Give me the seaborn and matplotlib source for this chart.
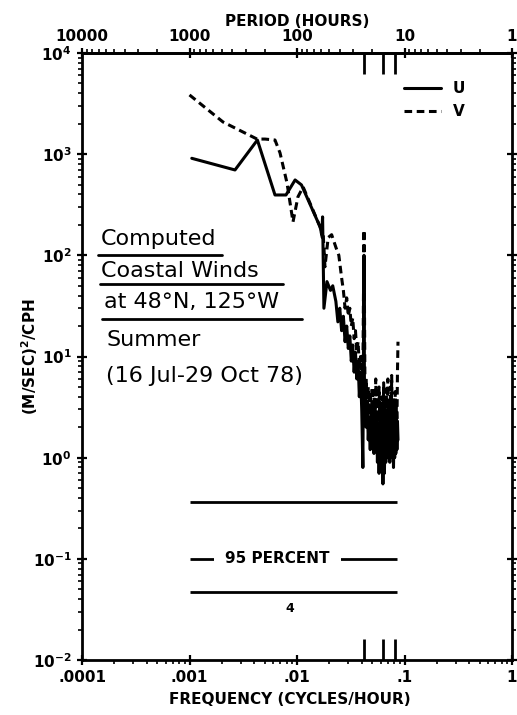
import matplotlib
matplotlib.use("Agg")
import matplotlib.pyplot as plt
import seaborn as sns
import numpy as np
import pandas as pd
from matplotlib.lines import Line2D
from matplotlib.ticker import NullLocator, NullFormatter

# spectra (frequency in cycles/hour, PSD in (m/s)^2/cph)
u_freq = [0.00105, 0.00265, 0.00428, 0.00624, 0.0079, 0.0096, 0.0110, 0.0164, 0.0170, 0.0173,
          0.0178, 0.019, 0.0205, 0.0215, 0.023, 0.024, 0.025, 0.026, 0.027, 0.028,
          0.029, 0.030, 0.031, 0.032, 0.033, 0.034, 0.035, 0.036, 0.037, 0.038,
          0.039, 0.040, 0.041, 0.042, 0.0425, 0.043, 0.044, 0.045, 0.046, 0.047,
          0.048, 0.049, 0.050, 0.051, 0.052, 0.053, 0.054, 0.055, 0.056, 0.057,
          0.058, 0.059, 0.060, 0.061, 0.062, 0.063, 0.064, 0.065, 0.066, 0.067,
          0.068, 0.069, 0.070, 0.071, 0.072, 0.073, 0.074, 0.075, 0.076, 0.077,
          0.078, 0.079, 0.080, 0.081, 0.082, 0.083, 0.084, 0.085, 0.086, 0.087]
u_psd = [910, 698, 1380, 395, 395, 556, 497, 191, 160, 240,
         30, 55, 45, 50, 35, 22, 30, 18, 25, 14,
         20, 12, 16, 9, 13, 7, 11, 6, 9, 4,
         7, 3, 0.8, 100, 2.5, 3, 2, 3.5, 1.5, 2.5,
         1.2, 3, 1.5, 2.8, 1.1, 3.5, 1.3, 2.5, 0.9, 2.2,
         0.7, 1.8, 1.0, 1.6, 2.5, 0.55, 2, 0.7, 1.8, 0.9,
         2.6, 1.0, 3, 1.2, 2.4, 0.9, 2.8, 1.1, 3.2, 1.0,
         2.5, 0.8, 2.1, 1.0, 3.0, 1.1, 2.7, 1.2, 2.3, 1.5]

v_freq = [0.001, 0.00205, 0.00425, 0.00504, 0.00624, 0.00695, 0.00807, 0.00918, 0.0102, 0.0114,
          0.0164, 0.0172, 0.0175, 0.0182, 0.0195, 0.021, 0.023, 0.0245, 0.026, 0.027,
          0.028, 0.029, 0.030, 0.031, 0.032, 0.033, 0.034, 0.035, 0.036, 0.037,
          0.038, 0.039, 0.040, 0.041, 0.042, 0.043, 0.044, 0.045, 0.046, 0.047,
          0.048, 0.049, 0.050, 0.051, 0.052, 0.053, 0.054, 0.055, 0.056, 0.057,
          0.058, 0.059, 0.060, 0.061, 0.062, 0.063, 0.064, 0.065, 0.066, 0.067,
          0.068, 0.069, 0.070, 0.071, 0.072, 0.073, 0.074, 0.075, 0.076, 0.077,
          0.078, 0.079, 0.080, 0.081, 0.082, 0.083, 0.084, 0.085, 0.086, 0.087]
v_psd = [3850, 2080, 1410, 1410, 1380, 1030, 520, 214, 378, 474,
         191, 150, 166, 77, 150, 160, 120, 100, 60, 45,
         30, 38, 25, 30, 20, 24, 15, 18, 11, 14,
         8, 10, 5, 7, 178, 3, 6, 2.5, 5, 2,
         4.5, 1.8, 5, 2.2, 4, 1.5, 6, 2, 4.5, 1.3,
         5, 1.6, 3.5, 1.1, 4, 1.4, 5.5, 1.8, 4, 1.2,
         4.8, 1.5, 6, 2, 3.8, 1.3, 5, 1.7, 6.5, 2,
         4, 1.4, 3.5, 1.2, 4.5, 1.6, 3.2, 2, 7, 14]

# 95 percent confidence bars
conf_levels = [0.368, 0.1, 0.0465]
conf_fmin, conf_fmax = 0.001, 0.0857
conf_label_freq = 0.0066
dof_freq, dof_level = 0.0086, 0.032
# diurnal, inertial, semidiurnal markers
tide_freqs = [0.042, 0.063, 0.082]

freq_ticks = [1e-4, 1e-3, 1e-2, 1e-1, 1]
freq_labels = ['.0001', '.001', '.01', '.1', '1']
period_ticks = [1e4, 1e3, 100, 10, 1]
period_labels = ['10000', '1000', '100', '10', '1']
psd_ticks = [1e-2, 1e-1, 1, 10, 100, 1e3, 1e4]
psd_labels = [r'$\mathbf{10^{-2}}$', r'$\mathbf{10^{-1}}$', r'$\mathbf{10^{0}}$', r'$\mathbf{10^{1}}$',
              r'$\mathbf{10^{2}}$', r'$\mathbf{10^{3}}$', r'$\mathbf{10^{4}}$']

df = pd.concat([
    pd.DataFrame({'freq': u_freq, 'psd': u_psd, 'comp': 'U'}),
    pd.DataFrame({'freq': v_freq, 'psd': v_psd, 'comp': 'V'}),
])

sns.set_style("ticks")
plt.rcParams['font.family'] = ['DejaVu Sans']
plt.rcParams['font.weight'] = 'bold'
for key in ('text.color', 'axes.labelcolor', 'xtick.color', 'ytick.color', 'axes.edgecolor'):
    plt.rcParams[key] = 'black'

W, H = 517, 715
fig = plt.figure(figsize=(W / 100, H / 100), dpi=100)
ax = fig.add_axes([82 / W, 1 - 660 / H, 430 / W, 607 / H])

sns.lineplot(data=df, x='freq', y='psd', style='comp', style_order=['U', 'V'],
             dashes={'U': '', 'V': (2.5, 1.5)}, color='black', linewidth=2.2,
             estimator=None, sort=False, ax=ax)

ax.set_xscale('log')
ax.set_yscale('log')
ax.set_xlim(1e-4, 1)
ax.set_ylim(1e-2, 1e4)

ax.set_xticks(freq_ticks, labels=freq_labels)
ax.set_yticks(psd_ticks, labels=psd_labels)
ax.xaxis.set_minor_formatter(NullFormatter())
ax.yaxis.set_minor_formatter(NullFormatter())
ax.tick_params(which='major', direction='inout', length=7, width=1.6, labelsize=11,
               right=True, pad=4)
ax.tick_params(which='minor', direction='out', length=3, width=1.2, right=True)
for s in ax.spines.values():
    s.set_linewidth(2)
    s.set_visible(True)

# confidence bars
ax.hlines(conf_levels, conf_fmin, conf_fmax, color='black', linewidth=2)
ax.text(conf_label_freq, conf_levels[1], '95 PERCENT', ha='center', va='center',
        fontsize=11, fontweight='bold', bbox=dict(facecolor='white', edgecolor='none', pad=8))
ax.text(dof_freq, dof_level, '4', ha='center', va='center', fontsize=9, fontweight='bold')

ax.set_xlabel('FREQUENCY (CYCLES/HOUR)', fontsize=11, fontweight='bold')
ax.xaxis.set_label_coords(0.484, -0.052)
ax.set_ylabel('(M/SEC)$^\\mathbf{2}$/CPH', fontsize=11, fontweight='bold')
ax.yaxis.set_label_coords(-0.098, 0.5)


def to_period(x):
    x = np.asarray(x, dtype=float)
    with np.errstate(divide='ignore'):
        return 1.0 / x


def ident(x):
    return x


top = ax.secondary_xaxis('top', functions=(to_period, to_period))
top.set_xticks(period_ticks, labels=period_labels)
top.xaxis.set_minor_formatter(NullFormatter())
top.tick_params(which='major', direction='inout', length=7, width=1.6, labelsize=11, pad=3)
top.tick_params(which='minor', direction='out', length=3, width=1.2)
top.spines['top'].set_linewidth(2)
top.set_xlabel('PERIOD (HOURS)', fontsize=11, fontweight='bold', labelpad=2)

for loc in ('bottom', 'top'):
    tide = ax.secondary_xaxis(loc, functions=(ident, ident))
    tide.set_xticks(tide_freqs, labels=['', '', ''])
    tide.xaxis.set_minor_locator(NullLocator())
    tide.tick_params(direction='in', length=15, width=2)
    tide.spines[loc].set_visible(False)

handles, labels = ax.get_legend_handles_labels()
ax.legend(handles, labels, loc='upper left',
          bbox_to_anchor=((404 - 82) / 430, (660 - 81) / 607),
          bbox_transform=ax.transAxes, frameon=False, handlelength=2.4, labelspacing=0.55,
          borderaxespad=0, borderpad=0, prop={'size': 11, 'weight': 'bold'})

# annotation block
lines = [("Computed", 101, 239), ("Coastal Winds", 101, 271), ("at 48°N, 125°W", 104, 302),
         ("Summer", 106, 340), ("(16 Jul-29 Oct 78)", 106, 376)]
for txt, px, py in lines:
    fig.text(px / W, 1 - py / H, txt, ha='left', va='center', fontsize=16, fontweight='normal')
for x0, x1, py in [(98, 222, 255), (100, 283, 284), (102, 302, 319)]:
    fig.add_artist(Line2D([x0 / W, x1 / W], [1 - py / H, 1 - py / H], color='black', linewidth=2))

fig.savefig('out.png', dpi=100)
